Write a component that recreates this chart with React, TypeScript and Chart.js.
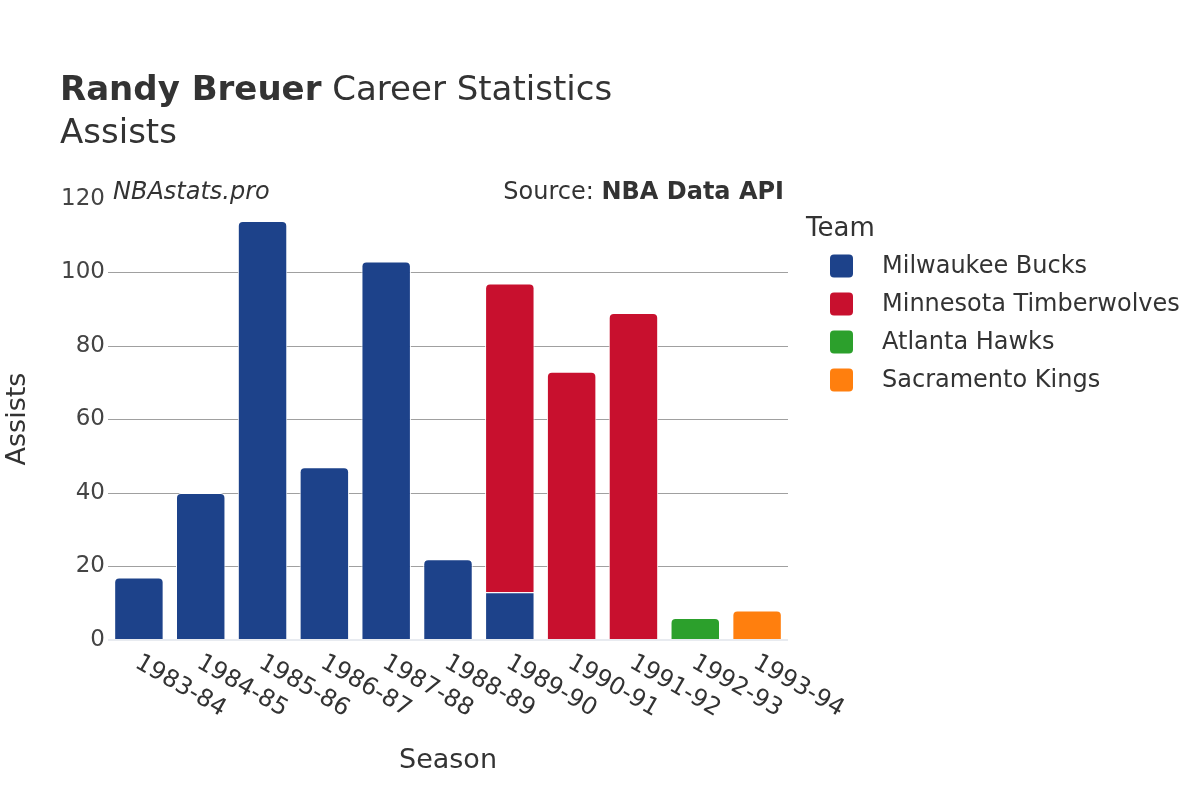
import React, { useEffect, useRef } from "react";
import { Chart, registerables } from "chart.js";

Chart.register(...registerables);

const seasons = ["1983-84", "1984-85", "1985-86", "1986-87", "1987-88", "1988-89", "1989-90", "1990-91", "1991-92", "1992-93", "1993-94"];
const teams = ["Milwaukee Bucks", "Minnesota Timberwolves", "Atlanta Hawks", "Sacramento Kings"];
const teamColors = ["#1d428a", "#c8102e", "#2ca02c", "#ff7f0e"];
const bucksAssists = [17, 40, 114, 47, 103, 22, 13, null, null, null, null];
const wolvesAssists = [null, null, null, null, null, null, 84, 73, 89, null, null];
const hawksAssists = [null, null, null, null, null, null, null, null, null, 6, null];
const kingsAssists = [null, null, null, null, null, null, null, null, null, null, 8];
const yTicks = [0, 20, 40, 60, 80, 100, 120];

const FONT = '"DejaVu Sans", sans-serif';
const TEXT = "#333333";

const overlay = {
  id: "overlay",
  afterDraw(chart: any) {
    const ctx = chart.ctx;
    const xs = chart.scales.x;
    ctx.save();
    ctx.fillStyle = TEXT;
    ctx.textBaseline = "alphabetic";
    ctx.textAlign = "left";
    // title
    ctx.font = `bold 34px ${FONT}`;
    ctx.fillText("Randy Breuer", 60, 100);
    const w = ctx.measureText("Randy Breuer").width;
    ctx.font = `34px ${FONT}`;
    ctx.fillText(" Career Statistics", 60 + w, 100);
    ctx.fillText("Assists", 60, 143);
    // annotations
    ctx.font = `italic 24px ${FONT}`;
    ctx.fillText("NBAstats.pro", 113, 199);
    ctx.font = `bold 24px ${FONT}`;
    const bw = ctx.measureText("NBA Data API").width;
    ctx.textAlign = "right";
    ctx.fillText("NBA Data API", 784, 199);
    ctx.font = `24px ${FONT}`;
    ctx.fillText("Source: ", 784 - bw, 199);
    // axis titles
    ctx.textAlign = "center";
    ctx.textBaseline = "middle";
    ctx.font = `27px ${FONT}`;
    ctx.fillText("Season", 448, 761);
    ctx.save();
    ctx.translate(18, 419);
    ctx.rotate(-Math.PI / 2);
    ctx.fillText("Assists", 0, 0);
    ctx.restore();
    // x tick labels
    ctx.font = `24px ${FONT}`;
    ctx.textAlign = "left";
    seasons.forEach((s, i) => {
      const x = xs.getPixelForValue(i);
      ctx.save();
      ctx.translate(x - 2, 661);
      ctx.rotate(Math.PI / 6);
      ctx.fillText(s, 0, 0);
      ctx.restore();
    });
    // legend
    ctx.textAlign = "left";
    ctx.textBaseline = "alphabetic";
    ctx.font = `26px ${FONT}`;
    ctx.fillText("Team", 806, 236);
    ctx.font = `24px ${FONT}`;
    ctx.textBaseline = "middle";
    teams.forEach((t, i) => {
      const cy = 266 + i * 38;
      ctx.fillStyle = teamColors[i];
      ctx.beginPath();
      (ctx as any).roundRect(830, cy - 11.5, 23, 23, 4);
      ctx.fill();
      ctx.fillStyle = TEXT;
      ctx.fillText(t, 882, cy + 1);
    });
    ctx.restore();
  },
};

export default function App() {
  const ref = useRef<HTMLCanvasElement>(null);
  useEffect(() => {
    document.body.style.margin = "0";
    const series = [bucksAssists, wolvesAssists, hawksAssists, kingsAssists];
    const chart = new Chart(ref.current as HTMLCanvasElement, {
      type: "bar",
      data: {
        labels: seasons,
        datasets: teams.map((t, i) => ({
          label: t,
          data: series[i],
          backgroundColor: teamColors[i],
          borderColor: "#ffffff",
          borderWidth: 1,
          borderRadius: 5,
          borderSkipped: "start",
          barPercentage: 0.8,
          categoryPercentage: 1,
        })),
      },
      options: {
        responsive: false,
        animation: false,
        devicePixelRatio: 1,
        layout: { padding: { top: 199, left: 0, right: 412, bottom: 160 } },
        plugins: { legend: { display: false }, tooltip: { enabled: false }, title: { display: false } },
        scales: {
          x: {
            stacked: true,
            ticks: { display: false },
            grid: { display: false },
            border: { display: false },
            afterFit: (s: any) => { s.height = 0; },
          },
          y: {
            stacked: true,
            min: 0,
            max: 120,
            afterBuildTicks: (s: any) => { s.ticks = yTicks.map((v) => ({ value: v })); },
            ticks: { font: { family: FONT, size: 23 }, color: "#444444", padding: 3 },
            grid: {
              color: (c: any) => (c.tick && c.tick.value === 120 ? "rgba(0,0,0,0)" : c.tick && c.tick.value === 0 ? "#e8ebf0" : "#a0a0a0"),
              lineWidth: (c: any) => (c.tick && c.tick.value === 0 ? 2 : 1),
              drawTicks: false,
            },
            border: { display: false },
            afterFit: (s: any) => { s.width = 108; },
          },
        },
      },
      plugins: [overlay],
    });
    return () => chart.destroy();
  }, []);
  return (
    <div style={{ position: "absolute", left: 0, top: 0, width: 1200, height: 800, background: "#fff" }}>
      <canvas ref={ref} width={1200} height={800} style={{ display: "block", width: 1200, height: 800 }} />
    </div>
  );
}
